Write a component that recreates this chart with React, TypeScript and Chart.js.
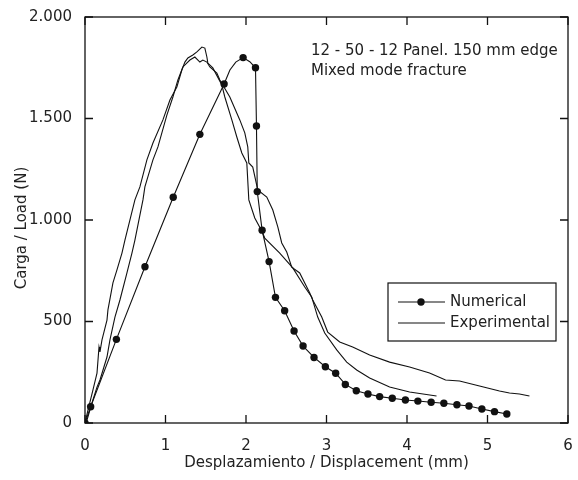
import React, { useEffect, useRef } from 'react';
import { Chart, registerables } from 'chart.js';

Chart.register(...registerables);

// ---------- Data ----------
// Numerical curve; numericalMarked = 1 where the curve carries a dot marker
const numericalX = [0, 0.07, 0.39, 0.745, 1.096, 1.427, 1.728, 1.8, 1.873, 1.964, 2.047, 2.118, 2.13, 2.14, 2.2, 2.287, 2.366, 2.48, 2.597, 2.709, 2.845, 2.986, 3.114, 3.234, 3.37, 3.515, 3.66, 3.817, 3.98, 4.135, 4.3, 4.458, 4.62, 4.77, 4.93, 5.087, 5.24];
const numericalY = [0, 80, 412, 770, 1112, 1422, 1670, 1739, 1778, 1800, 1780, 1750, 1463, 1140, 950, 795, 619, 553, 453, 379, 323, 277, 245, 190, 159, 143, 130, 122, 113, 108, 102, 97, 90, 84, 69, 56, 44];
const numericalMarked = [1, 1, 1, 1, 1, 1, 1, 0, 0, 1, 0, 1, 1, 1, 1, 1, 1, 1, 1, 1, 1, 1, 1, 1, 1, 1, 1, 1, 1, 1, 1, 1, 1, 1, 1, 1, 1];

const expAX = [0, 0.037, 0.099, 0.149, 0.174, 0.186, 0.211, 0.273, 0.285, 0.347, 0.397, 0.459, 0.496, 0.62, 0.682, 0.769, 0.844, 0.968, 1.055, 1.141, 1.203, 1.241, 1.278, 1.34, 1.39, 1.452, 1.489, 1.514, 1.526, 1.588, 1.7, 1.737, 1.824, 1.886, 1.948, 2.01, 2.035, 2.109, 2.196, 2.233, 2.419, 2.581, 2.73, 2.816, 2.891, 2.978, 3.127, 3.251, 3.375, 3.536, 3.784, 4.032, 4.367];
const expAY = [0, 64, 163, 246, 374, 350, 409, 507, 557, 690, 754, 837, 901, 1099, 1163, 1296, 1379, 1493, 1591, 1655, 1739, 1778, 1798, 1813, 1828, 1852, 1847, 1803, 1773, 1749, 1665, 1606, 1493, 1409, 1330, 1281, 1099, 1010, 946, 911, 837, 764, 670, 621, 522, 443, 360, 300, 261, 222, 177, 153, 133];

const expBX = [0, 0.025, 0.087, 0.149, 0.186, 0.273, 0.31, 0.372, 0.434, 0.521, 0.583, 0.62, 0.72, 0.744, 0.844, 0.906, 1.017, 1.092, 1.154, 1.216, 1.303, 1.365, 1.427, 1.464, 1.514, 1.551, 1.638, 1.675, 1.799, 1.923, 1.985, 2.022, 2.035, 2.084, 2.146, 2.258, 2.333, 2.395, 2.444, 2.506, 2.568, 2.667, 2.792, 2.829, 2.941, 3.015, 3.164, 3.325, 3.536, 3.784, 4.032, 4.28, 4.479, 4.653, 4.901, 5.149, 5.273, 5.397, 5.521];
const expBY = [0, 15, 99, 177, 212, 325, 409, 522, 606, 739, 837, 901, 1099, 1163, 1296, 1360, 1517, 1606, 1690, 1754, 1788, 1803, 1778, 1788, 1778, 1754, 1724, 1690, 1606, 1493, 1429, 1360, 1281, 1261, 1148, 1113, 1049, 966, 887, 842, 768, 739, 640, 606, 522, 448, 399, 374, 335, 300, 276, 246, 212, 207, 182, 158, 148, 143, 133];

const xTicks = [0, 1, 2, 3, 4, 5, 6];
const yTicks = [0, 500, 1000, 1500, 2000];
const legendLabels = ['Numerical', 'Experimental'];
const noteLines = ['12 - 50 - 12 Panel. 150 mm edge', 'Mixed mode fracture'];
const xTitle = 'Desplazamiento / Displacement (mm)';
const yTitle = 'Carga / Load (N)';

const FONT = '"DejaVu Sans", Verdana, sans-serif';
const FS = 15;
const INK = '#111';
const TEXT = '#222';

const toPoints = (xs: number[], ys: number[]) => xs.map((x, i) => ({ x, y: ys[i] }));
const fmt = (v: number) => String(v).replace(/\B(?=(\d{3})+(?!\d))/g, '.');

const decorPlugin = {
  id: 'decor',
  afterDraw(chart: any) {
    const { ctx, chartArea } = chart;
    const { left, right, top, bottom } = chartArea;
    const xs = chart.scales.x;
    const ys = chart.scales.y;
    ctx.save();
    ctx.strokeStyle = INK;
    ctx.lineWidth = 1.3;
    ctx.strokeRect(left, top, right - left, bottom - top);
    ctx.beginPath();
    xTicks.forEach((v) => {
      const px = xs.getPixelForValue(v);
      ctx.moveTo(px, bottom);
      ctx.lineTo(px, bottom - 8);
      ctx.moveTo(px, top);
      ctx.lineTo(px, top + 8);
    });
    yTicks.forEach((v) => {
      const py = ys.getPixelForValue(v);
      ctx.moveTo(left, py);
      ctx.lineTo(left + 8, py);
      ctx.moveTo(right, py);
      ctx.lineTo(right - 8, py);
    });
    ctx.stroke();

    // y axis title (drawn slightly below the plot's vertical centre, as in the reference)
    ctx.save();
    ctx.fillStyle = TEXT;
    ctx.font = `${FS}px ${FONT}`;
    ctx.textAlign = 'center';
    ctx.textBaseline = 'middle';
    ctx.translate(22, (top + bottom) / 2 + 8);
    ctx.rotate(-Math.PI / 2);
    ctx.fillText(yTitle, 0, 0);
    ctx.restore();

    // annotation text
    ctx.fillStyle = TEXT;
    ctx.font = `${FS}px ${FONT}`;
    ctx.textAlign = 'left';
    ctx.textBaseline = 'middle';
    const nx = left + 226;
    noteLines.forEach((t, i) => ctx.fillText(t, nx, top + 34 + i * 20));

    // legend box
    const bx = left + 303;
    const by = top + 266;
    const bw = 168;
    const bh = 58;
    ctx.fillStyle = '#fff';
    ctx.fillRect(bx, by, bw, bh);
    ctx.lineWidth = 1.2;
    ctx.strokeStyle = INK;
    ctx.strokeRect(bx, by, bw, bh);
    const rows = [by + 19, by + 40];
    ctx.lineWidth = 1.1;
    rows.forEach((ry, i) => {
      ctx.beginPath();
      ctx.moveTo(bx + 10, ry);
      ctx.lineTo(bx + 57, ry);
      ctx.stroke();
      if (i === 0) {
        ctx.beginPath();
        ctx.arc(bx + 33, ry, 3.7, 0, Math.PI * 2);
        ctx.fillStyle = INK;
        ctx.fill();
      }
      ctx.fillStyle = TEXT;
      ctx.font = `${FS}px ${FONT}`;
      ctx.textBaseline = 'middle';
      ctx.fillText(legendLabels[i], bx + 62, ry);
    });
    ctx.restore();
  },
};

export default function App() {
  const ref = useRef<HTMLCanvasElement | null>(null);

  useEffect(() => {
    if (!ref.current) return;
    const chart = new Chart(ref.current, {
      type: 'scatter',
      data: {
        datasets: [
          {
            label: legendLabels[0],
            data: toPoints(numericalX, numericalY),
            showLine: true,
            borderColor: INK,
            backgroundColor: INK,
            borderWidth: 1.1,
            pointRadius: (c: any) => (numericalMarked[c.dataIndex] ? 3.7 : 0),
            pointBorderWidth: 0,
            pointBackgroundColor: INK,
          },
          {
            label: legendLabels[1],
            data: toPoints(expAX, expAY),
            showLine: true,
            borderColor: INK,
            borderWidth: 1.1,
            pointRadius: 0,
          },
          {
            label: legendLabels[1] + ' 2',
            data: toPoints(expBX, expBY),
            showLine: true,
            borderColor: INK,
            borderWidth: 1.1,
            pointRadius: 0,
          },
        ],
      },
      options: {
        responsive: false,
        animation: false,
        layout: { padding: { top: 17, right: 10, left: 0, bottom: 0 } },
        plugins: {
          legend: { display: false },
          tooltip: { enabled: false },
        },
        scales: {
          x: {
            type: 'linear',
            min: 0,
            max: 6,
            afterBuildTicks: (s: any) => {
              s.ticks = xTicks.map((v) => ({ value: v }));
            },
            afterFit: (s: any) => {
              s.height = 57;
              s.paddingLeft = 0;
              s.paddingRight = 0;
            },
            grid: { display: false, drawTicks: false },
            border: { display: false },
            ticks: {
              padding: 14,
              color: TEXT,
              font: { family: FONT, size: FS },
              callback: (v: any) => String(v),
            },
            title: {
              display: true,
              text: xTitle,
              color: TEXT,
              font: { family: FONT, size: FS },
              padding: { top: 0, bottom: 8 },
            },
          },
          y: {
            type: 'linear',
            min: 0,
            max: 2000,
            afterBuildTicks: (s: any) => {
              s.ticks = yTicks.map((v) => ({ value: v }));
            },
            afterFit: (s: any) => {
              s.width = 85;
              s.paddingTop = 0;
              s.paddingBottom = 0;
            },
            grid: { display: false, drawTicks: false },
            border: { display: false },
            ticks: {
              padding: 13,
              color: TEXT,
              font: { family: FONT, size: FS },
              callback: (v: any) => fmt(Number(v)),
            },
            title: { display: false },
          },
        },
      },
      plugins: [decorPlugin],
    });
    return () => chart.destroy();
  }, []);

  return (
    <div style={{ position: 'fixed', left: 0, top: 0, width: 578, height: 480, background: '#fff' }}>
      <canvas ref={ref} width={578} height={480} style={{ width: 578, height: 480, display: 'block' }} />
    </div>
  );
}
